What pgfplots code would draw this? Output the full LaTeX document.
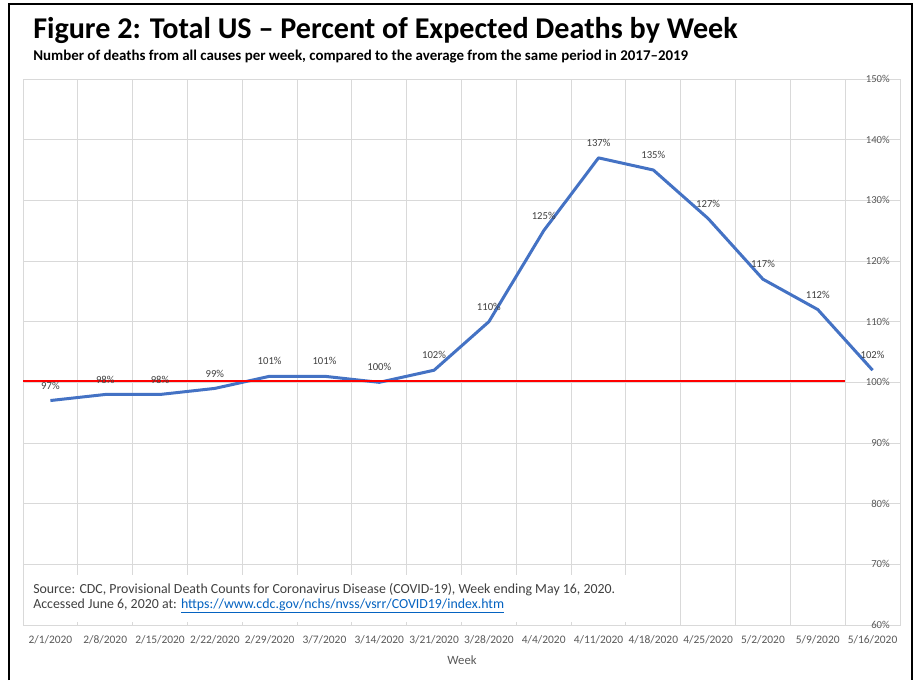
\documentclass[border=0pt]{standalone}
\usepackage{pgfplots}
\pgfplotsset{compat=1.18}
\usepackage{fontspec}
\setmainfont{Carlito}
\definecolor{blueline}{HTML}{4472C4}
\definecolor{gridgray}{HTML}{D9D9D9}
\definecolor{ticktext}{HTML}{595959}
\definecolor{labeltext}{HTML}{404040}
\definecolor{urlblue}{HTML}{0563C1}
\begin{document}
\begin{tikzpicture}
\begin{scope}[x=0.75pt,y=-0.75pt]
\path[use as bounding box] (0,0) rectangle (915,680);
\fill[white] (0,0) rectangle (915,680);
\end{scope}
\begin{axis}[
  at={(17.25pt,-468.75pt)}, anchor=south west,
  scale only axis, width=657.75pt, height=409.5pt,
  xmin=-0.5, xmax=15.5, ymin=60, ymax=150,
  xtick={0,...,15},
  xticklabels={2/1/2020,2/8/2020,2/15/2020,2/22/2020,2/29/2020,3/7/2020,3/14/2020,3/21/2020,3/28/2020,4/4/2020,4/11/2020,4/18/2020,4/25/2020,5/2/2020,5/9/2020,5/16/2020},
  minor xtick={-0.5,0.5,...,15.5},
  xminorgrids=true, ymajorgrids=true,
  grid style={draw=gridgray, line width=0.75pt},
  minor grid style={draw=gridgray, line width=0.75pt},
  major tick length=0pt, minor tick length=0pt,
  axis line style={draw=gridgray, line width=0.75pt},
  ytick={60,70,...,150},
  yticklabel pos=right,
  yticklabel={\pgfmathprintnumber{\tick}\%},
  /pgf/number format/assume math mode=true,
  y tick label style={anchor=east, inner sep=0pt, xshift=-7.5pt, font=\fontsize{8}{9}\selectfont, text=ticktext},
  x tick label style={font=\fontsize{8.6}{10}\selectfont, text=ticktext, inner sep=0pt, yshift=-7.5pt},
]
\addplot[color=blueline, line width=2.25pt, line join=round, mark=none,
  nodes near coords={\pgfmathprintnumber{\pgfplotspointmeta}\%}, point meta=y,
  every node near coord/.append style={anchor=center, yshift=11.25pt, font=\fontsize{8}{9}\selectfont, text=labeltext}]
coordinates {(0,97) (1,98) (2,98) (3,99) (4,101) (5,101) (6,100) (7,102) (8,110) (9,125) (10,137) (11,135) (12,127) (13,117) (14,112) (15,102)};
\addplot[color=red, line width=1.5pt, mark=none] coordinates {(-0.5,100.3) (14.5,100.3)};
\end{axis}
\begin{scope}[x=0.75pt,y=-0.75pt]
\fill[white] (24.5,575) rectangle (655,622);
\draw[black, line width=1.6pt] (9,680) -- (9,4) -- (912,4) -- (912,680);
\node[anchor=west, inner sep=0pt, font=\fontsize{22.6}{26}\selectfont\bfseries] at (33,30) {Figure 2: Total US – Percent of Expected Deaths by Week};
\node[anchor=west, inner sep=0pt, font=\fontsize{11.2}{13}\selectfont\bfseries] at (33,57) {Number of deaths from all causes per week, compared to the average from the same period in 2017–2019};
\node[anchor=west, inner sep=0pt, font=\fontsize{10.4}{12}\selectfont, text=labeltext] at (33,590) {Source: CDC, Provisional Death Counts for Coronavirus Disease (COVID-19), Week ending May 16, 2020.};
\node[anchor=west, inner sep=0pt, font=\fontsize{10.4}{12}\selectfont, text=labeltext] at (33,606) {Accessed June 6, 2020 at: \textcolor{urlblue}{\underline{https://www.cdc.gov/nchs/nvss/vsrr/COVID19/index.htm}}};
\node[anchor=center, inner sep=0pt, font=\fontsize{9.5}{11}\selectfont, text=ticktext] at (462,660) {Week};
\end{scope}
\end{tikzpicture}
\end{document}
